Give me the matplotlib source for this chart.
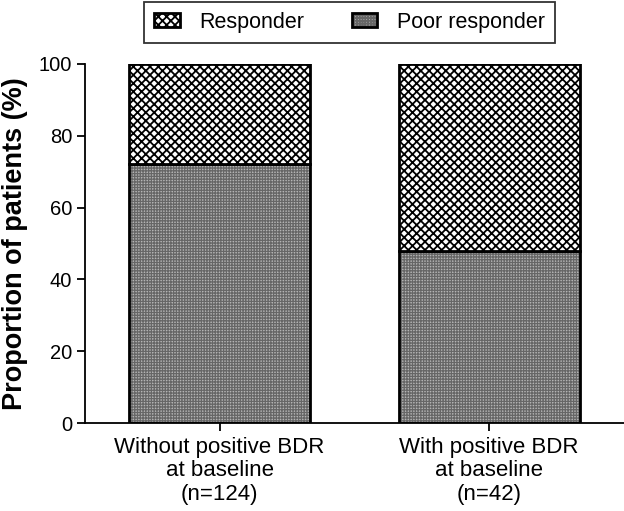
import matplotlib
matplotlib.use("Agg")
import matplotlib.pyplot as plt

plt.rcParams['font.family'] = ['Liberation Sans', 'DejaVu Sans']

categories = ["Without positive BDR\nat baseline\n(n=124)", "With positive BDR\nat baseline\n(n=42)"]
poor_responder = [72, 48]
responder = [28, 52]
yticks = [0, 20, 40, 60, 80, 100]

fig = plt.figure(figsize=(6.24, 5.11), dpi=100)
ax = fig.add_axes([0.136, 0.172, 0.864, 0.703])

x = range(len(categories))
plt.rcParams['hatch.linewidth'] = 0.9
b1 = ax.bar(x, poor_responder, width=0.67, color='#b4b4b4', edgecolor='black',
            linewidth=2, hatch='++++++', label='Poor responder')
for p in b1:
    p._hatch_color = (0.4, 0.4, 0.4, 1)
plt.rcParams['hatch.linewidth'] = 1.3
b2 = ax.bar(x, responder, bottom=poor_responder, width=0.67, color='white',
            edgecolor='black', linewidth=2, hatch='xxxx', label='Responder')

ax.set_xlim(-0.5, 1.5)
ax.set_ylim(0, 100)
ax.set_yticks(yticks)
ax.set_xticks(list(x))
ax.set_xticklabels(categories, fontsize=16, linespacing=1.15)
ax.tick_params(axis='y', labelsize=14.5, length=6, width=1.3, direction='out', pad=3)
ax.tick_params(axis='x', length=6, width=1.3, direction='out', pad=4)
for s in ['top', 'right']:
    ax.spines[s].set_visible(False)
for s in ['left', 'bottom']:
    ax.spines[s].set_linewidth(1.3)
ax.set_ylabel('Proportion of patients (%)', fontsize=19.5, fontweight='bold', labelpad=8)

leg = fig.legend(handles=[b2, b1], labels=['Responder', 'Poor responder'],
                 loc='upper center', bbox_to_anchor=(0.56, 1.0), ncol=2,
                 fontsize=15.5, frameon=True, fancybox=False, edgecolor='black',
                 handlelength=1.2, handleheight=0.6, columnspacing=2.2,
                 borderpad=0.45, handletextpad=0.9, borderaxespad=0.1)
leg.get_frame().set_linewidth(1.3)

fig.savefig('out.png', dpi=100)
